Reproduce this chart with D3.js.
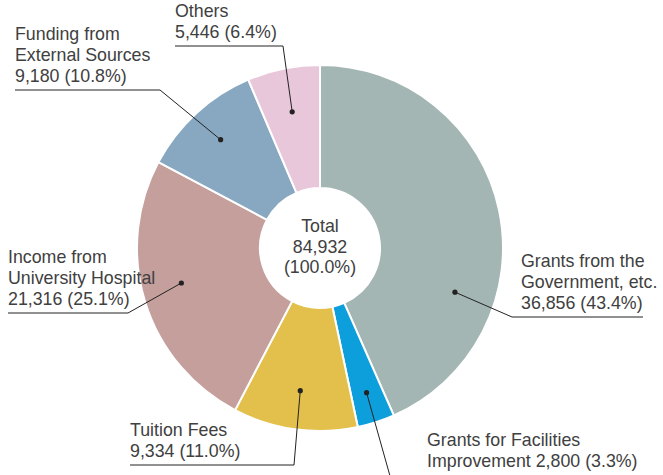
<!DOCTYPE html>
<html>
<head>
<meta charset="utf-8">
<script src="https://cdn.jsdelivr.net/npm/d3@7"></script>
<style>
  html, body { margin: 0; padding: 0; background: #fff; }
  #chart { width: 663px; height: 475px; }
  text { font-family: "Liberation Sans", Arial, Helvetica, sans-serif; }
</style>
</head>
<body>
<div id="chart"></div>
<script>
  // ============================================
  // REVENUE BREAKDOWN (donut)
  // ============================================

  const categories = [
    "Grants from the Government, etc.",
    "Grants for Facilities Improvement",
    "Tuition Fees",
    "Income from University Hospital",
    "Funding from External Sources",
    "Others"
  ];
  const values = [36856, 2800, 9334, 21316, 9180, 5446];
  const colors = ["#a3b6b4", "#0d9fdc", "#e3c04b", "#c49f9c", "#87a8c0", "#e8c7db"];
  // label lines; {v} is replaced with "value (pct%)"
  const labelLines = [
    ["Grants from the", "Government, etc.", "{v}"],
    ["Grants for Facilities", "Improvement {v}"],
    ["Tuition Fees", "{v}"],
    ["Income from", "University Hospital", "{v}"],
    ["Funding from", "External Sources", "{v}"],
    ["Others", "{v}"]
  ];
  const centerLines = ["Total", "{t}", "(100.0%)"];

  function renderDonut() {
    const width = 663, height = 475;
    const cx = 320, cy = 248;
    const outerR = 183, innerR = 60;
    const fontSize = "17.8px";

    const svg = d3.select("#chart").append("svg")
      .attr("width", width)
      .attr("height", height);

    const total = d3.sum(values);
    const fmt = d3.format(",");
    const pct = v => (v / total * 100).toFixed(1);

    const pie = d3.pie().sort(null).value(d => d.value);
    const arcs = pie(values.map((v, i) => ({ name: categories[i], value: v, i })));

    const arc = d3.arc().innerRadius(innerR).outerRadius(outerR);

    const g = svg.append("g").attr("transform", `translate(${cx},${cy})`);

    g.selectAll("path.slice")
      .data(arcs)
      .join("path")
      .attr("class", "slice")
      .attr("d", arc)
      .attr("fill", d => colors[d.data.i])
      .attr("stroke", "#fff")
      .attr("stroke-width", 2);

    // Center text
    g.selectAll("text.center")
      .data(centerLines)
      .join("text")
      .attr("class", "center")
      .attr("text-anchor", "middle")
      .attr("x", 0)
      .attr("y", (d, i) => -16 + i * 20.5)
      .attr("font-size", fontSize)
      .attr("fill", "#404040")
      .text(d => d.replace("{t}", fmt(total)));

    // Leader layout: dot radius + angle nudge (deg), elbow, label anchor (x, line y)
    const layout = [
      { r: 142, da: 30,  elbow: [512, 317], end: 643, tx: 521 },
      { r: 152, da: 0,   elbow: [390, 476], end: null, tx: 427, ty: 446 },
      { r: 144, da: 0,   elbow: [294, 465], end: 130, tx: 130 },
      { r: 143, da: 3,   elbow: [128, 313], end: 8,   tx: 8 },
      { r: 147, da: 0,   elbow: [160, 90],  end: 15,  tx: 15 },
      { r: 139, da: 0,   elbow: [283, 46],  end: 175, tx: 175 }
    ];

    const leaders = svg.append("g");
    arcs.forEach((a, i) => {
      const L = layout[i];
      const ang = (a.startAngle + a.endAngle) / 2 + L.da * Math.PI / 180;
      const dx = cx + L.r * Math.sin(ang);
      const dy = cy - L.r * Math.cos(ang);
      const pts = [[dx, dy], L.elbow];
      if (L.end !== null) pts.push([L.end, L.elbow[1]]);
      leaders.append("path")
        .attr("d", d3.line()(pts))
        .attr("fill", "none")
        .attr("stroke", "#222")
        .attr("stroke-width", 1);
      leaders.append("circle")
        .attr("cx", dx).attr("cy", dy).attr("r", 2.6)
        .attr("fill", "#222");

      const lines = labelLines[i].map(s => s.replace("{v}", `${fmt(values[i])} (${pct(values[i])}%)`));
      const lastY = L.ty !== undefined ? L.ty + (lines.length - 1) * 21 : L.elbow[1] - 8;
      leaders.selectAll(null)
        .data(lines)
        .join("text")
        .attr("x", L.tx)
        .attr("y", (d, j) => lastY - (lines.length - 1 - j) * 21)
        .attr("font-size", fontSize)
        .attr("fill", "#404040")
        .text(d => d);
    });
  }

  renderDonut();
</script>
</body>
</html>
